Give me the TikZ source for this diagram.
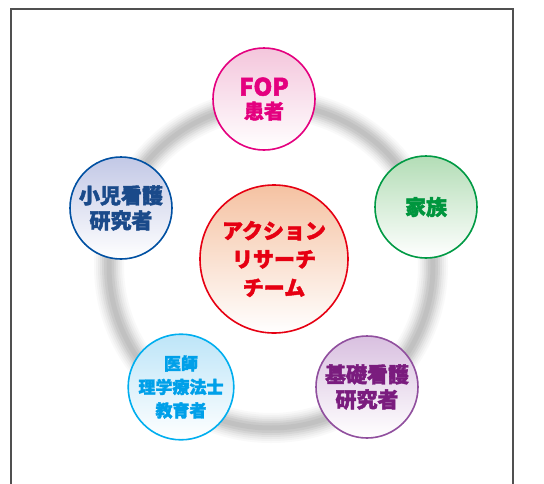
\documentclass[tikz,border=0pt]{standalone}
\usepackage{fontspec}
\newfontfamily\jp{Noto Sans CJK JP}[BoldFeatures={FakeBold=2}]
\definecolor{fopc}{HTML}{E4007F}
\definecolor{fopl}{HTML}{F4C6DC}
\definecolor{famc}{HTML}{009A44}
\definecolor{famt}{HTML}{00963E}
\definecolor{faml}{HTML}{B3DDB6}
\definecolor{pedc}{HTML}{0050A2}
\definecolor{pedt}{HTML}{1A4A8A}
\definecolor{pedl}{HTML}{C2C8E6}
\definecolor{arc}{HTML}{E60012}
\definecolor{arl}{HTML}{F5C2A2}
\definecolor{docc}{HTML}{00AEEF}
\definecolor{doct}{HTML}{00A0E9}
\definecolor{docl}{HTML}{BDE5F8}
\definecolor{basc}{HTML}{904F9E}
\definecolor{bast}{HTML}{7A1C7E}
\definecolor{basl}{HTML}{D9C0E0}
\definecolor{framec}{HTML}{505050}
\begin{document}
\begin{tikzpicture}[x=1pt,y=-1pt]
\tikzset{
  bub/.style={circle, minimum size=102pt, inner sep=0pt, line width=1.6pt, align=center,
    font=\jp\bfseries\fontsize{21}{25}\selectfont},
  grad/.style={top color=#1, middle color=white, bottom color=white},
  ringstroke/.style={draw=black!30, line width=#1}
}
\useasboundingbox (0,0) rectangle (544,483);
\fill[white] (0,0) rectangle (544,483);
\draw[line width=1.5pt, framec] (11,500) -- (11,9) -- (513,9) -- (513,500);
% blurred ring
\foreach \w/\o in {30/0.07, 26/0.09, 22/0.12, 18/0.16, 14/0.22, 10/0.3, 5/0.35}
  \draw[ringstroke=\w pt, opacity=\o] (271,266) circle[radius=162];
% nodes
\node[bub, draw=fopc, grad=fopl, text=fopc] (fop) at (264,99)
  {\fontsize{24}{27}\selectfont FOP\\[-2pt]\fontsize{20}{22}\selectfont 患者};
\node[bub, draw=famc, grad=faml, text=famt] (fam) at (426,207) {家族};
\node[bub, draw=pedc, grad=pedl, text=pedt] (ped) at (121,208) {小児看護\\研究者};
\node[bub, draw=docc, grad=docl, text=doct, font=\jp\bfseries\fontsize{17}{23.5}\selectfont] (doc) at (181,387) {医師\\理学療法士\\教育者};
\node[bub, draw=basc, grad=basl, text=bast] (bas) at (367,387) {基礎看護\\研究者};
\node[bub, minimum size=148pt, draw=arc, top color=arl, bottom color=white, text=arc,
  font=\jp\bfseries\fontsize{21}{28.5}\selectfont] (ar) at (274,259) {アクション\\リサーチ\\チーム};
\end{tikzpicture}
\end{document}
